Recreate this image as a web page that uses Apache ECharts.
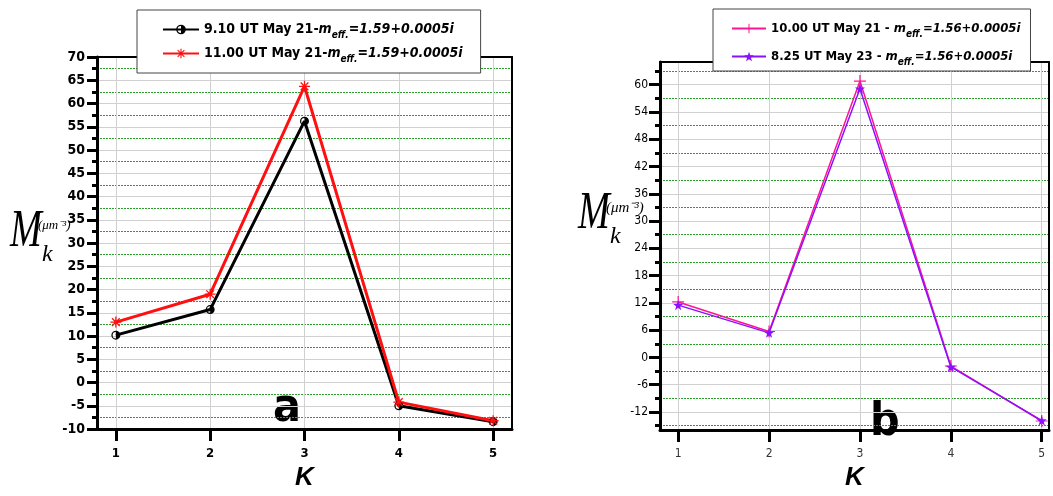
<!DOCTYPE html>
<html>
<head>
<meta charset="utf-8">
<script src="https://cdn.jsdelivr.net/npm/echarts@6/dist/echarts.min.js"></script>
<style>
  html, body { margin: 0; padding: 0; background: #fff; }
  #chart { width: 1053px; height: 496px; }
</style>
</head>
<body>
<div id="chart"></div>
<script>
// K moments, x categories
const kValues = [1, 2, 3, 4, 5];

// panel a
const may21At0910 = [10.2, 15.7, 56.2, -5.0, -8.4];
const may21At1100 = [13.0, 19.0, 63.7, -4.2, -8.2];
// panel b
const may21At1000 = [12.2, 5.7, 60.8, -1.9, -14.0];
const may23At0825 = [11.5, 5.4, 59.1, -2.1, -13.9];

// tick labels
const leftMajorTicks = [-10, -5, 0, 5, 10, 15, 20, 25, 30, 35, 40, 45, 50, 55, 60, 65, 70];
const leftMinorTicks = [-7.5, -2.5, 2.5, 7.5, 12.5, 17.5, 22.5, 27.5, 32.5, 37.5, 42.5, 47.5, 52.5, 57.5, 62.5, 67.5];
const rightMajorTicks = [-12, -6, 0, 6, 12, 18, 24, 30, 36, 42, 48, 54, 60];
const rightMinorTicks = [-15, -9, -3, 3, 9, 15, 21, 27, 33, 39, 45, 51, 57, 63];

const legendNames = {
  a1: '9.10 UT May 21-',
  a2: '11.00 UT May 21-',
  b1: '10.00 UT May 21 - ',
  b2: '8.25 UT May 23 - '
};
const legendIndex = { a1: '1.59+0.0005i', a2: '1.59+0.0005i', b1: '1.56+0.0005i', b2: '1.56+0.0005i' };

const narrow = "'Liberation Sans Narrow', 'Arial Narrow', 'DejaVu Sans Condensed', sans-serif";
const serif = "'Liberation Serif', 'Times New Roman', serif";
const gray = '#d0d0d0';
const green = '#2e9e2e';

const halfCircle = 'path://M0,-5A5,5 0 1,1 0,5A5,5 0 1,1 0,-5Z M0,-3.6A3.6,3.6 0 1,0 0,3.6A3.6,3.6 0 1,0 0,-3.6Z M0,-3.6A3.6,3.6 0 0,1 0,3.6Z';
const asterisk = 'path://M-0.7,-6H0.7V6H-0.7Z M-6,-0.7H6V0.7H-6Z M-4.7,-3.7L-3.7,-4.7L4.7,3.7L3.7,4.7Z M3.7,-4.7L4.7,-3.7L-3.7,4.7L-4.7,3.7Z';
const plus = 'path://M-0.6,-6H0.6V6H-0.6Z M-6,-0.6H6V0.6H-6Z';
const star = 'path://M0,-5L1.18,-1.62L4.76,-1.55L1.9,0.62L2.94,4.05L0,2L-2.94,4.05L-1.9,0.62L-4.76,-1.55L-1.18,-1.62Z';

function pairs(values) {
  return kValues.map((k, i) => [k, values[i]]);
}

function yAxes(grid, min, max, major, minor, bold) {
  return [
    {
      type: 'value', gridIndex: grid, position: 'left', min: min, max: max,
      axisLine: { show: true, onZero: false, lineStyle: { color: '#000', width: 3 } },
      axisTick: { show: true, length: bold ? 10 : 11, customValues: major, lineStyle: { color: '#000', width: 3 } },
      axisLabel: {
        customValues: major, color: '#000', margin: 12,
        fontFamily: narrow, fontSize: bold ? 14 : 12, fontWeight: bold ? 'bold' : 'normal'
      },
      splitLine: { show: true, lineStyle: { color: gray, width: 1 } }
    },
    {
      // minor ticks + green dotted grid
      type: 'value', gridIndex: grid, position: 'left', offset: 0, min: min, max: max,
      axisLine: { show: false },
      axisTick: { show: true, length: 5, customValues: minor, lineStyle: { color: '#000', width: 3 } },
      axisLabel: { show: false },
      splitLine: { show: true, lineStyle: { color: green, width: 1, type: [2, 1] } }
    },
    {
      type: 'value', gridIndex: grid, position: 'right', min: min, max: max,
      axisLine: { show: true, onZero: false, lineStyle: { color: '#000', width: 2 } },
      axisTick: { show: false }, axisLabel: { show: false }, splitLine: { show: false }
    }
  ];
}

function xAxes(grid, min, max, bold) {
  return [
    {
      type: 'value', gridIndex: grid, position: 'bottom', min: min, max: max,
      axisLine: { show: true, onZero: false, lineStyle: { color: '#000', width: 3 } },
      axisTick: { show: true, length: 12, customValues: kValues, lineStyle: { color: '#000', width: 3 } },
      axisLabel: {
        customValues: kValues, color: bold ? '#000' : '#333', margin: 18,
        fontFamily: narrow, fontSize: bold ? 13 : 12, fontWeight: bold ? 'bold' : 'normal'
      },
      splitLine: { show: true, lineStyle: { color: gray, width: 1 } },
      name: 'K', nameLocation: 'middle', nameGap: 33,
      nameTextStyle: { color: '#000', fontFamily: 'Liberation Sans', fontSize: 26, fontStyle: 'italic', fontWeight: 'bold' }
    },
    {
      type: 'value', gridIndex: grid, position: 'top', min: min, max: max,
      axisLine: { show: true, onZero: false, lineStyle: { color: '#000', width: 2 } },
      axisTick: { show: false }, axisLabel: { show: false }, splitLine: { show: false }
    }
  ];
}

function legendRich(size) {
  const base = { fontFamily: narrow, fontWeight: 'bold', fontSize: size, color: '#000', lineHeight: 18, verticalAlign: 'middle' };
  return {
    t: base,
    i: Object.assign({}, base, { fontStyle: 'italic' }),
    s: Object.assign({}, base, { fontStyle: 'italic', fontSize: 10, padding: [11, 0, 0, 0] })
  };
}

function legendFormatter(name) {
  return '{t|' + legendNames[name] + '}{i|m}{s|eff.}{i|=' + legendIndex[name] + '}';
}

function mLabel(x, y, parenSize) {
  return [
    { type: 'text', left: x, top: y, scaleX: 0.72, style: { text: 'M', font: 'italic 53px ' + serif, fill: '#000' } },
    { type: 'text', left: x + 32, top: y + 37, style: { text: 'k', font: 'italic 24px ' + serif, fill: '#000' } },
    { type: 'text', left: x + 28, top: y + 13, style: { text: '(\u03bcm\u207b\u00b3)', font: 'italic ' + parenSize + 'px ' + serif, fill: '#000' } }
  ];
}

const chart = echarts.init(document.getElementById('chart'));

const option = {
  backgroundColor: '#fff',
  animation: false,
  grid: [
    { left: 97, top: 57, width: 415, height: 385 },
    { left: 660, top: 62, width: 389, height: 381 }
  ],
  xAxis: [...xAxes(0, 0.8, 5.2, true), ...xAxes(1, 0.8, 5.08, false)],
  yAxis: [
    ...yAxes(0, -10, 70, leftMajorTicks, leftMinorTicks, true),
    ...yAxes(1, -16, 65, rightMajorTicks, rightMinorTicks, false)
  ],
  legend: [
    {
      data: ['a1', 'a2'], orient: 'vertical', left: 137, top: 10,
      padding: [9, 18, 9, 25], itemGap: 3, itemWidth: 36, itemHeight: 12,
      backgroundColor: '#fff', borderColor: '#444', borderWidth: 1,
      formatter: legendFormatter, textStyle: { rich: legendRich(14) }
    },
    {
      data: ['b1', 'b2'], orient: 'vertical', left: 713, top: 9,
      padding: [9, 10, 4, 18], itemGap: 7, itemWidth: 34, itemHeight: 12,
      backgroundColor: '#fff', borderColor: '#444', borderWidth: 1,
      formatter: legendFormatter, textStyle: { rich: legendRich(13) }
    }
  ],
  graphic: [
    ...mLabel(10, 206, 13),
    ...mLabel(578, 188, 15),
    { type: 'text', left: 273, top: 386, style: { text: 'a', font: 'bold 46px ' + narrow, fill: '#000' } },
    { type: 'text', left: 870, top: 400, style: { text: 'b', font: 'bold 46px ' + narrow, fill: '#000' } }
  ],
  series: [
    {
      name: 'a1', type: 'line', xAxisIndex: 0, yAxisIndex: 0, data: pairs(may21At0910),
      symbol: halfCircle, symbolSize: 9, color: '#000', lineStyle: { width: 3, color: '#000' }
    },
    {
      name: 'a2', type: 'line', xAxisIndex: 0, yAxisIndex: 0, data: pairs(may21At1100),
      symbol: asterisk, symbolSize: 11, color: '#ff1010', lineStyle: { width: 3, color: '#ff1010' }
    },
    {
      name: 'b1', type: 'line', xAxisIndex: 2, yAxisIndex: 3, data: pairs(may21At1000),
      symbol: plus, symbolSize: 12, color: '#ff1493', lineStyle: { width: 1.5, color: '#ff1493' }
    },
    {
      name: 'b2', type: 'line', xAxisIndex: 2, yAxisIndex: 3, data: pairs(may23At0825),
      symbol: star, symbolSize: 10, color: '#8a10ff', lineStyle: { width: 1.5, color: '#8a10ff' }
    }
  ]
};

chart.setOption(option);
</script>
</body>
</html>
